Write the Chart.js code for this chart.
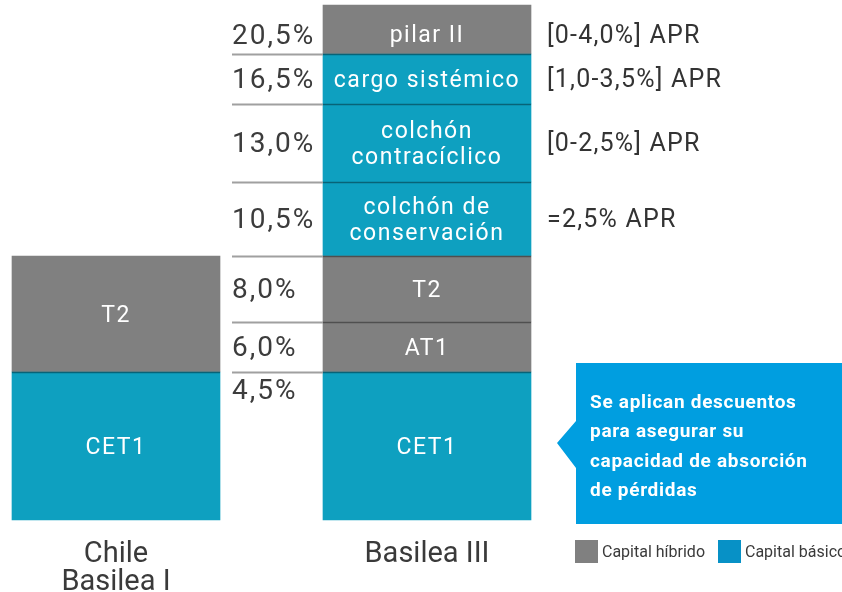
<!DOCTYPE html>
<html>
<head>
<meta charset="utf-8">
<script src="https://cdn.jsdelivr.net/npm/chart.js@4"></script>
<style>
  html, body { margin: 0; padding: 0; background: #ffffff; }
  #wrap { width: 842px; height: 592px; position: relative; }
</style>
</head>
<body>
<div id="wrap"><canvas id="c" width="842" height="592"></canvas></div>
<script>
// ---------------- data ----------------
const categories = [['Chile', 'Basilea I'], '', 'Basilea III', '', ''];
const tierNames = ['CET1', 'AT1', 'T2', 'colchón de conservación', 'colchón contracíclico', 'cargo sistémico', 'pilar II'];
const segmentTexts = [['CET1'], ['AT1'], ['T2'], ['colchón de', 'conservación'], ['colchón', 'contracíclico'], ['cargo sistémico'], ['pilar II']];
const basileaIII = [4.5, 1.5, 2.0, 2.5, 2.5, 3.5, 4.0];
const chileBasileaI = [4.5, null, 3.5, null, null, null, null];
const tierKind = ['básico', 'híbrido', 'híbrido', 'básico', 'básico', 'básico', 'híbrido'];
const levelLabels = ['4,5%', '6,0%', '8,0%', '10,5%', '13,0%', '16,5%', '20,5%'];
const aprLabels = ['', '', '', '=2,5% APR', '[0-2,5%] APR', '[1,0-3,5%] APR', '[0-4,0%] APR'];
const legendLabels = ['Capital híbrido', 'Capital básico'];
const calloutLines = ['Se aplican descuentos', 'para asegurar su', 'capacidad de absorción', 'de pérdidas'];

// ---------------- style ----------------
const COLORS = { 'básico': '#0ea0c0', 'híbrido': '#808080' };
const LEGEND_COLORS = ['#808080', '#0791c6'];
const CALLOUT = '#009ee0';
// schematic (non-proportional) display height of each tier in the original figure
const tierDisplayWeight = [148, 50, 66, 74, 78, 50, 49];

// piecewise y scale: each tier gets its schematic height
const breaks = [0];
basileaIII.forEach(v => breaks.push(breaks[breaks.length - 1] + v));
const wTotal = tierDisplayWeight.reduce((a, b) => a + b, 0);
const fracs = [0];
tierDisplayWeight.forEach(w => fracs.push(fracs[fracs.length - 1] + w / wTotal));
function toFrac(v) {
  if (v <= breaks[0]) return 0;
  for (let i = 1; i < breaks.length; i++) {
    if (v <= breaks[i]) {
      const t = (v - breaks[i - 1]) / (breaks[i] - breaks[i - 1]);
      return fracs[i - 1] + t * (fracs[i] - fracs[i - 1]);
    }
  }
  return 1;
}
function fromFrac(f) {
  for (let i = 1; i < fracs.length; i++) {
    if (f <= fracs[i]) {
      const t = (f - fracs[i - 1]) / (fracs[i] - fracs[i - 1]);
      return breaks[i - 1] + t * (breaks[i] - breaks[i - 1]);
    }
  }
  return breaks[breaks.length - 1];
}
class PiecewiseScale extends Chart.LinearScale {
  getPixelForValue(value) {
    if (value === null || value === undefined || isNaN(value)) return NaN;
    return this.getPixelForDecimal(toFrac(value));
  }
  getValueForPixel(pixel) {
    return fromFrac(this.getDecimalForPixel(pixel));
  }
}
PiecewiseScale.id = 'piecewise';
PiecewiseScale.defaults = Chart.LinearScale.defaults;
Chart.register(PiecewiseScale);

const datasets = tierNames.map((name, i) => ({
  label: name,
  data: [chileBasileaI[i], null, basileaIII[i], null, null],
  backgroundColor: COLORS[tierKind[i]],
  borderWidth: 0,
  barThickness: 208,
  clip: false,
  stack: 's'
}));

const FONT = 'Roboto, "DejaVu Sans", sans-serif';

const overlay = {
  id: 'overlay',
  afterDatasetsDraw(chart) {
    const ctx = chart.ctx;
    const metas = tierNames.map((_, i) => chart.getDatasetMeta(i));
    const bar = (i, idx) => metas[i].data[idx].getProps(['x', 'y', 'base', 'width'], true);
    const topTier = tierNames.length - 1;
    const midY = (i, idx) => {
      const b = bar(i, idx);
      return (b.y + b.base) / 2 + (i === topTier ? 5 : 0);
    };
    ctx.save();

    // boundary lines (guide lines to the left + thin separators)
    for (let i = 1; i < tierNames.length; i++) {
      const b = bar(i, 2);
      const y = Math.round(b.base) + 0.5;
      const left = b.x - b.width / 2;
      ctx.strokeStyle = '#a0a0a0';
      ctx.lineWidth = 2;
      ctx.beginPath(); ctx.moveTo(232, y); ctx.lineTo(left, y); ctx.stroke();
      ctx.strokeStyle = 'rgba(0,0,0,0.38)';
      ctx.lineWidth = 1.5;
      ctx.beginPath(); ctx.moveTo(left, y); ctx.lineTo(b.x + b.width / 2, y); ctx.stroke();
    }
    // Chile separator
    for (let i = 1; i < tierNames.length; i++) {
      if (chileBasileaI[i] == null) continue;
      const b = bar(i, 0);
      const y = Math.round(b.base) + 0.5;
      ctx.strokeStyle = 'rgba(0,0,0,0.38)';
      ctx.lineWidth = 1.5;
      ctx.beginPath(); ctx.moveTo(b.x - b.width / 2, y); ctx.lineTo(b.x + b.width / 2, y); ctx.stroke();
    }

    // segment texts
    ctx.fillStyle = '#ffffff';
    ctx.font = '23px ' + FONT;
    ctx.letterSpacing = '1.5px';
    ctx.textAlign = 'center';
    ctx.textBaseline = 'middle';
    const drawSeg = (i, idx) => {
      const b = bar(i, idx);
      const cy = midY(i, idx);
      const lines = segmentTexts[i];
      const lh = 26;
      lines.forEach((t, k) => {
        ctx.fillText(t, b.x, cy + (k - (lines.length - 1) / 2) * lh + 2);
      });
    };
    for (let i = 0; i < tierNames.length; i++) {
      drawSeg(i, 2);
      if (chileBasileaI[i] != null) drawSeg(i, 0);
    }

    // level labels on the left
    ctx.fillStyle = '#3c3c3c';
    ctx.font = '28px ' + FONT;
    ctx.letterSpacing = '2px';
    ctx.textAlign = 'left';
    for (let i = 0; i < levelLabels.length; i++) {
      const b = bar(i, 2);
      const cy = i === 0 ? b.y + 20 : midY(i, 2) + 2;
      ctx.fillText(levelLabels[i], 232, cy);
    }

    // APR labels on the right
    ctx.fillStyle = '#333333';
    ctx.font = '25px ' + FONT;
    ctx.letterSpacing = '1.2px';
    for (let i = 0; i < aprLabels.length; i++) {
      if (!aprLabels[i]) continue;
      ctx.fillText(aprLabels[i], 547, midY(i, 2) + 2);
    }

    // callout
    const cet = bar(0, 2);
    const py = (cet.y + cet.base) / 2 - 3;
    ctx.fillStyle = CALLOUT;
    ctx.beginPath();
    ctx.moveTo(576, py - 80);
    ctx.lineTo(842, py - 80);
    ctx.lineTo(842, py + 81);
    ctx.lineTo(576, py + 81);
    ctx.lineTo(576, py + 25);
    ctx.lineTo(557, py);
    ctx.lineTo(576, py - 22);
    ctx.closePath();
    ctx.fill();
    ctx.fillStyle = '#ffffff';
    ctx.font = 'bold 19px ' + FONT;
    ctx.letterSpacing = '0.7px';
    calloutLines.forEach((t, k) => ctx.fillText(t, 590, py - 40 + k * 29.5));

    // legend
    ctx.letterSpacing = '0px';
    ctx.font = '16px ' + FONT;
    const lx = [575, 718];
    legendLabels.forEach((t, k) => {
      ctx.fillStyle = LEGEND_COLORS[k];
      ctx.fillRect(lx[k], 540, 23, 23);
      ctx.fillStyle = '#3a3a3a';
      ctx.fillText(t, lx[k] + 27, 553);
    });

    ctx.restore();
  }
};

new Chart(document.getElementById('c'), {
  type: 'bar',
  data: { labels: categories, datasets },
  options: {
    responsive: false,
    animation: false,
    devicePixelRatio: 1,
    layout: { padding: { left: 38.25, right: 26.25, top: 5, bottom: 0 } },
    plugins: { legend: { display: false }, tooltip: { enabled: false } },
    scales: {
      x: {
        type: 'category',
        stacked: true,
        offset: true,
        grid: { display: false, drawTicks: false },
        border: { display: false },
        ticks: {
          color: '#3a3a3a',
          font: { family: FONT, size: 29, lineHeight: '28px' },
          padding: 21,
          maxRotation: 0,
          autoSkip: false
        },
        afterFit(scale) { scale.height = 72; }
      },
      y: {
        type: 'piecewise',
        stacked: true,
        min: 0,
        max: 20.5,
        display: false
      }
    }
  },
  plugins: [overlay]
});
</script>
</body>
</html>
